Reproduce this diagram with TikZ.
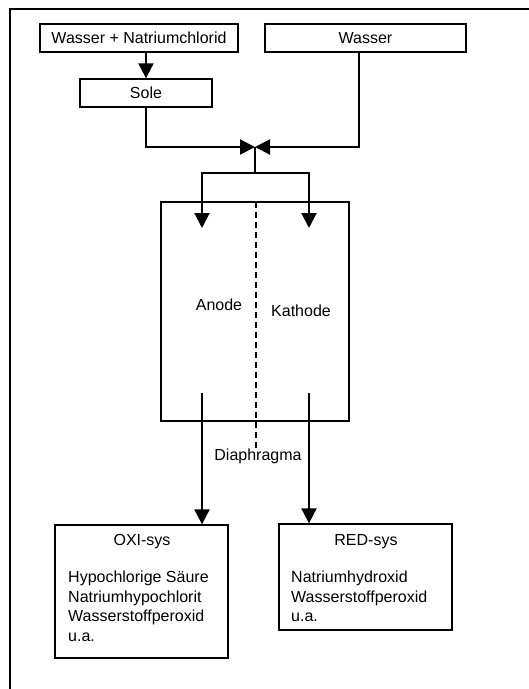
\documentclass[tikz,border=0pt]{standalone}
\usepackage{fontspec}
\setmainfont{Liberation Sans}
\usetikzlibrary{arrows.meta}
\begin{document}
\begin{tikzpicture}[x=1pt,y=-1pt,
  font=\fontsize{16}{19.5}\selectfont,
  box/.style={draw,line width=1.3pt,inner sep=0pt,minimum height=28pt},
  conn/.style={line width=2pt},
  arr/.style={conn,-{Triangle[width=15pt,length=15pt]}},
  lbl/.style={inner sep=0pt}]
\useasboundingbox (0,0) rectangle (529,689);
% outer frame (top and left only)
\draw[line width=1.5pt] (10,689) -- (10,9) -- (529,9);
% top boxes
\node[box,minimum width=198pt] (wn) at (139,38) {Wasser + Natriumchlorid};
\node[box,minimum width=201pt] (wasser) at (365.5,38) {Wasser};
\node[box,minimum width=132pt] (sole) at (146,93) {Sole};
% valve and split
\coordinate (valve) at (255,147);
\coordinate (split) at (255,173);
\coordinate (wout) at (359,52);
% cell
\node[draw,line width=2.5pt,minimum width=188pt,minimum height=219pt,inner sep=0pt] (cell) at (255,311.5) {};
\coordinate (inL) at (202,228);
\coordinate (inR) at (309,228);
\coordinate (outL) at (202,393);
\coordinate (outR) at (309,393);
\coordinate (diaTop) at (256,202);
\coordinate (diaBot) at (256,448);
\node[lbl] (anode) at (219,305) {Anode};
\node[lbl] (kathode) at (301,311) {Kathode};
\node[lbl] (dia) at (258,456) {Diaphragma};
% output boxes
\node[draw,line width=1.3pt,minimum width=173pt,minimum height=133pt,inner sep=0pt] (oxi) at (141.5,591.5) {};
\node[draw,line width=1.3pt,minimum width=173pt,minimum height=106pt,inner sep=0pt] (red) at (365.5,577) {};
\node[lbl] (oxit) at (142,542) {OXI-sys};
\node[lbl] (redt) at (366,542) {RED-sys};
\node[lbl,anchor=north west,align=left] (oxib) at (68,571) {Hypochlorige Säure\\Natriumhypochlorit\\Wasserstoffperoxid\\u.a.};
\node[lbl,anchor=north west,align=left] (redb) at (291,571) {Natriumhydroxid\\Wasserstoffperoxid\\u.a.};
% connectors
\draw[arr] (sole.north |- wn.south) -- (sole.north);
\draw[arr] (sole.south) |- (valve);
\draw[arr] (wout) |- (valve);
\draw[conn] (valve) -- (split);
\draw[arr] (split) -| (inL);
\draw[arr] (split) -| (inR);
\draw[line width=1.8pt,dash pattern=on 6pt off 4pt] (diaTop) -- (diaBot);
\draw[arr] (outL) -- (outL |- oxi.north);
\draw[arr] (outR) -- (outR |- red.north);
\end{tikzpicture}
\end{document}
